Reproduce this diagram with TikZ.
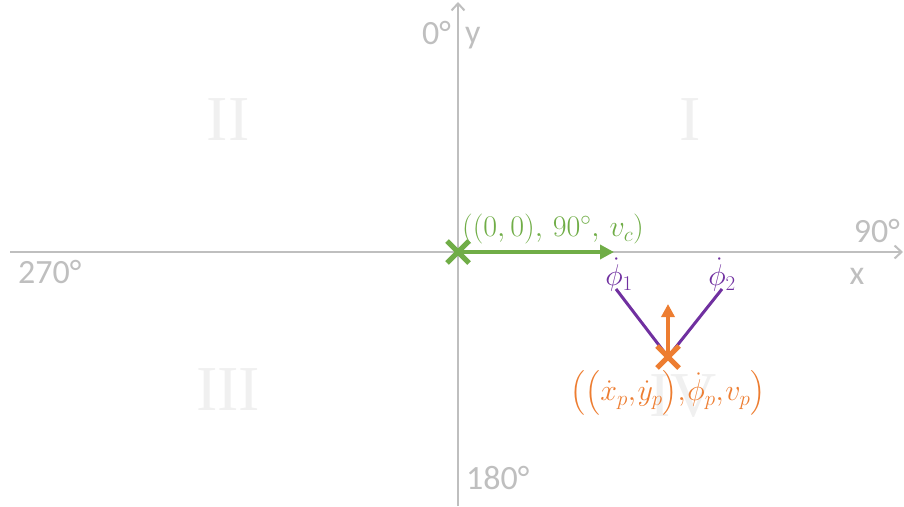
\RequirePackage{fix-cm}
\documentclass[tikz,border=0pt]{standalone}
\usepackage{amsmath}
\usepackage{fontspec}
\setmainfont{Carlito}
\newfontfamily\quadfont{Liberation Serif}
\usetikzlibrary{arrows.meta, shapes.misc}
\definecolor{axisgrey}{RGB}{191,191,191}
\definecolor{quadgrey}{RGB}{240,240,240}
\definecolor{CarGreen}{RGB}{112,173,71}
\definecolor{PedOrange}{RGB}{237,125,49}
\definecolor{WheelPurple}{RGB}{112,48,160}

\begin{document}
\begin{tikzpicture}[x=1pt, y=-1pt, font=\fontsize{34}{38}\selectfont,
  axis/.style={axisgrey, line width=2pt, -{Straight Barb[length=7pt,width=13pt]}},
  axislabel/.style={axisgrey, inner sep=0pt},
  quadlabel/.style={quadgrey, inner sep=0pt, font=\quadfont\fontsize{64}{70}\selectfont},
  mathlabel/.style={inner sep=0pt, font=\fontsize{30}{34}\selectfont},
  crossmark/.style={cross out, draw, line width=5pt, minimum size=17pt, inner sep=0pt},
  heading/.style={line width=4pt, -{Triangle[length=14pt,width=14pt]}}]
  \useasboundingbox (0,0) rectangle (904,506);

  % quadrants
  \node[quadlabel] (qI) at (690,120) {I};
  \node[quadlabel] (qII) at (228,120) {II};
  \node[quadlabel] (qIII) at (228,390) {III};
  \node[quadlabel] (qIV) at (683,396) {IV};

  % axes
  \coordinate (xstart) at (10,252);
  \coordinate (xend) at (903,252);
  \coordinate (ybot) at (458,506);
  \coordinate (ytop) at (458,2);
  \draw[axis] (xstart) -- (xend);
  \draw[axis] (ybot) -- (ytop);
  \node[axislabel, anchor=east] (deg0) at (451,33) {0°};
  \node[axislabel, anchor=base west] (ylab) at (465,43) {y};
  \node[axislabel, anchor=east] (deg90) at (900,231) {90°};
  \node[axislabel, anchor=center] (xlab) at (857,276) {x};
  \node[axislabel, anchor=west] (deg270) at (18,272) {270°};
  \node[axislabel, anchor=west] (deg180) at (466,478) {180°};

  % car
  \node[crossmark, CarGreen] (car) at (458,252) {};
  \coordinate (carhead) at (614,252);
  \draw[heading, CarGreen] (car.center) -- (carhead);
  \node[mathlabel, CarGreen] (carstate) at (553,229) {$((0,0),\, 90^\circ,\, v_c)$};

  % pedestrian
  \coordinate (wheel1) at (616,289);
  \coordinate (wheel2) at (722,289);
  \node[mathlabel, WheelPurple] (phi1) at (619,275) {$\dot{\phi}_1$};
  \node[mathlabel, WheelPurple] (phi2) at (722,275) {$\dot{\phi}_2$};
  \coordinate (pedpos) at (668,357);
  \draw[WheelPurple, line width=3pt] (wheel1) -- (pedpos) -- (wheel2);
  \node[crossmark, PedOrange] (ped) at (pedpos) {};
  \coordinate (pedhead) at (668,304);
  \draw[heading, PedOrange, -{Triangle[length=13pt,width=13pt]}] (ped.center) -- (pedhead);
  \node[mathlabel, PedOrange] (pedstate) at (668,393)
    {$\bigl(\bigl(\dot{x}_p,\mkern-2mu \dot{y}_p\bigr),\mkern-2mu \dot{\phi}_p,\mkern-2mu v_p\bigr)$};
\end{tikzpicture}
\end{document}
